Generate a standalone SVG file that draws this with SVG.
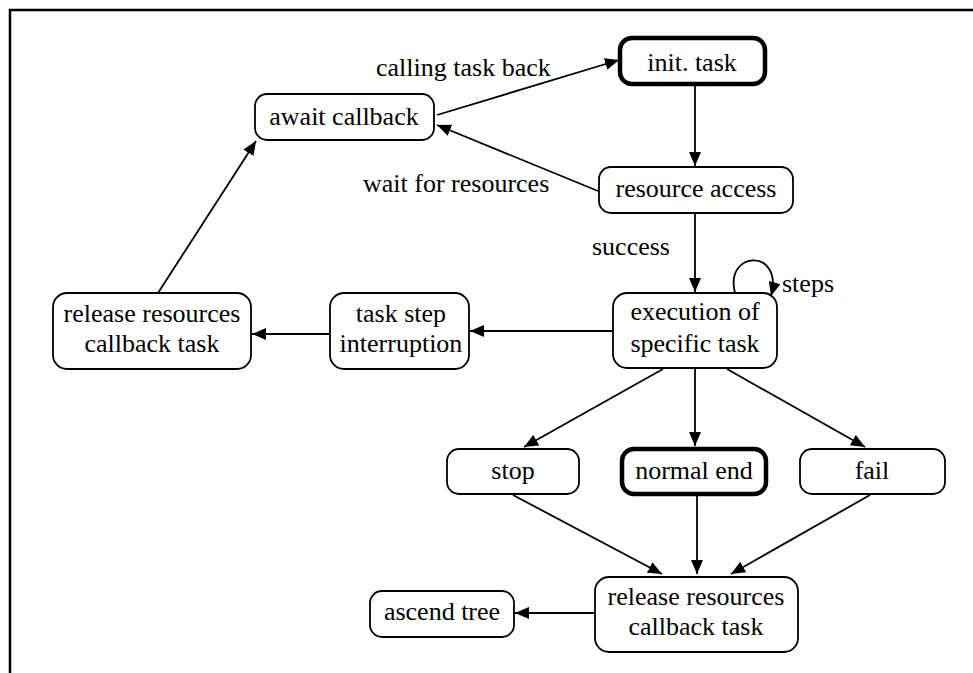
<svg xmlns="http://www.w3.org/2000/svg" width="973" height="673" viewBox="0 0 973 673">
  <style>
    .node { fill: #ffffff; stroke: #000000; stroke-width: 1.8; }
    .bold { stroke-width: 4.5; }
    text { font-family: 'Liberation Serif', 'Times New Roman', Times, serif; font-size: 26px; fill: #000000; }
    .mid { text-anchor: middle; }
    .edge { fill: none; stroke: #000000; stroke-width: 1.8; marker-end: url(#head); }
  </style>
  <defs>
    <marker id="head" viewBox="0 0 14 12" markerWidth="14" markerHeight="12" refX="14" refY="6" orient="auto" markerUnits="userSpaceOnUse">
      <path d="M0,0 L14,6 L0,12 z" fill="#000000"/>
    </marker>
  </defs>

  <rect width="973" height="673" fill="#ffffff"/>
  <!-- frame: top and left edges only -->
  <path d="M10,673 L10,10 L973,10" fill="none" stroke="#000000" stroke-width="2.5"/>

  <g id="connectors">
    <line class="edge" x1="437" y1="115" x2="619" y2="60"/>
    <line class="edge" x1="695" y1="86" x2="695" y2="166"/>
    <line class="edge" x1="598" y1="191" x2="437" y2="125"/>
    <line class="edge" x1="695" y1="214" x2="695" y2="292"/>
    <path class="edge" d="M735,293 C724,250 784,248 771,296"/>
    <line class="edge" x1="613" y1="331" x2="470" y2="331"/>
    <line class="edge" x1="330" y1="334" x2="252" y2="334"/>
    <line class="edge" x1="158" y1="293" x2="256" y2="141"/>
    <line class="edge" x1="663" y1="369" x2="524" y2="447"/>
    <line class="edge" x1="695" y1="369" x2="695" y2="446"/>
    <line class="edge" x1="727" y1="369" x2="865" y2="447"/>
    <line class="edge" x1="513" y1="495" x2="662" y2="574"/>
    <line class="edge" x1="697" y1="496" x2="697" y2="574"/>
    <line class="edge" x1="870" y1="495" x2="731" y2="574"/>
    <line class="edge" x1="595" y1="613" x2="515" y2="613"/>
    <text x="376" y="76">calling task back</text>
    <text x="363" y="192">wait for resources</text>
    <text x="592" y="255">success</text>
    <text x="782" y="292">steps</text>
  </g>

  <g id="init-task">
    <rect class="node bold" x="620" y="38" width="145" height="46" rx="12"/>
    <text class="mid" x="692" y="71">init. task</text>
  </g>
  <g id="resource-access">
    <rect class="node" x="599" y="167" width="194" height="46" rx="12"/>
    <text class="mid" x="696" y="197">resource access</text>
  </g>
  <g id="await-callback">
    <rect class="node" x="255" y="94" width="179" height="46" rx="12"/>
    <text class="mid" x="344" y="125">await callback</text>
  </g>
  <g id="execution">
    <rect class="node" x="613" y="293" width="164" height="75" rx="14"/>
    <text class="mid" x="695" y="320">execution of</text>
    <text class="mid" x="695" y="352">specific task</text>
  </g>
  <g id="task-step-interruption">
    <rect class="node" x="330" y="293" width="139" height="76" rx="14"/>
    <text class="mid" x="401" y="322">task step</text>
    <text class="mid" x="401" y="352">interruption</text>
  </g>
  <g id="release-left">
    <rect class="node" x="53" y="293" width="198" height="76" rx="14"/>
    <text class="mid" x="152" y="322">release resources</text>
    <text class="mid" x="152" y="352">callback task</text>
  </g>
  <g id="stop">
    <rect class="node" x="447" y="449" width="132" height="45" rx="12"/>
    <text class="mid" x="513" y="479">stop</text>
  </g>
  <g id="normal-end">
    <rect class="node bold" x="622" y="449" width="144" height="45" rx="12"/>
    <text class="mid" x="694" y="479">normal end</text>
  </g>
  <g id="fail">
    <rect class="node" x="800" y="449" width="145" height="45" rx="12"/>
    <text class="mid" x="872" y="479">fail</text>
  </g>
  <g id="release-bottom">
    <rect class="node" x="595" y="577" width="203" height="75" rx="14"/>
    <text class="mid" x="696" y="605">release resources</text>
    <text class="mid" x="696" y="635">callback task</text>
  </g>
  <g id="ascend-tree">
    <rect class="node" x="370" y="591" width="144" height="46" rx="12"/>
    <text class="mid" x="442" y="620">ascend tree</text>
  </g>
</svg>
